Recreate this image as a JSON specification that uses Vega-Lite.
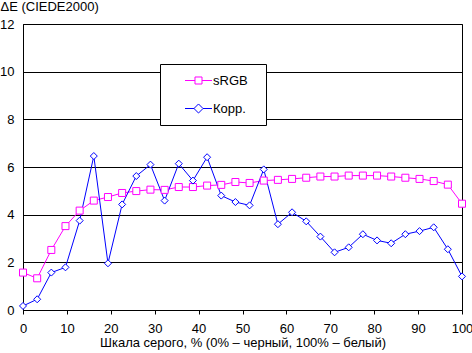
{
  "$schema": "https://vega.github.io/schema/vega-lite/v6.json",
  "width": 439,
  "height": 286,
  "autosize": {"type": "none"},
  "padding": {"left": 23, "top": 24, "right": 10, "bottom": 43},
  "background": "white",
  "config": {
    "view": {"stroke": "black", "strokeWidth": 1},
    "font": "Liberation Sans",
    "axis": {
      "labelFont": "Liberation Sans", "labelFontSize": 13, "labelColor": "black",
      "titleFont": "Liberation Sans", "titleFontSize": 13, "titleColor": "black", "titleFontWeight": "normal",
      "domainColor": "black", "tickColor": "black"
    },
    "legend": {
      "orient": "none", "legendX": 137, "legendY": 40,
      "padding": 9,
      "strokeColor": "black", "fillColor": "white",
      "symbolSize": 182, "symbolStrokeWidth": 1, "symbolFillColor": "white",
      "symbolOffset": 22, "labelOffset": 7, "rowPadding": 13,
      "labelFont": "Liberation Sans", "labelFontSize": 13, "labelColor": "black",
      "labelBaseline": "middle"
    }
  },
  "data": {
    "values": [
      {"x": 0, "series": "sRGB", "v": 1.57},
      {"x": 3.226, "series": "sRGB", "v": 1.33},
      {"x": 6.452, "series": "sRGB", "v": 2.52},
      {"x": 9.677, "series": "sRGB", "v": 3.52},
      {"x": 12.903, "series": "sRGB", "v": 4.17},
      {"x": 16.129, "series": "sRGB", "v": 4.59},
      {"x": 19.355, "series": "sRGB", "v": 4.74},
      {"x": 22.581, "series": "sRGB", "v": 4.91},
      {"x": 25.806, "series": "sRGB", "v": 4.99},
      {"x": 29.032, "series": "sRGB", "v": 5.05},
      {"x": 32.258, "series": "sRGB", "v": 5.04},
      {"x": 35.484, "series": "sRGB", "v": 5.16},
      {"x": 38.71, "series": "sRGB", "v": 5.16},
      {"x": 41.935, "series": "sRGB", "v": 5.22},
      {"x": 45.161, "series": "sRGB", "v": 5.25},
      {"x": 48.387, "series": "sRGB", "v": 5.37},
      {"x": 51.613, "series": "sRGB", "v": 5.33},
      {"x": 54.839, "series": "sRGB", "v": 5.43},
      {"x": 58.065, "series": "sRGB", "v": 5.46},
      {"x": 61.29, "series": "sRGB", "v": 5.5},
      {"x": 64.516, "series": "sRGB", "v": 5.55},
      {"x": 67.742, "series": "sRGB", "v": 5.6},
      {"x": 70.968, "series": "sRGB", "v": 5.6},
      {"x": 74.194, "series": "sRGB", "v": 5.64},
      {"x": 77.419, "series": "sRGB", "v": 5.64},
      {"x": 80.645, "series": "sRGB", "v": 5.64},
      {"x": 83.871, "series": "sRGB", "v": 5.6},
      {"x": 87.097, "series": "sRGB", "v": 5.55},
      {"x": 90.323, "series": "sRGB", "v": 5.5},
      {"x": 93.548, "series": "sRGB", "v": 5.41},
      {"x": 96.774, "series": "sRGB", "v": 5.26},
      {"x": 100, "series": "sRGB", "v": 4.46},
      {"x": 0, "series": "Корр.", "v": 0.17},
      {"x": 3.226, "series": "Корр.", "v": 0.45},
      {"x": 6.452, "series": "Корр.", "v": 1.57},
      {"x": 9.677, "series": "Корр.", "v": 1.79},
      {"x": 12.903, "series": "Корр.", "v": 3.75},
      {"x": 16.129, "series": "Корр.", "v": 6.46},
      {"x": 19.355, "series": "Корр.", "v": 1.96},
      {"x": 22.581, "series": "Корр.", "v": 4.43},
      {"x": 25.806, "series": "Корр.", "v": 5.62},
      {"x": 29.032, "series": "Корр.", "v": 6.1},
      {"x": 32.258, "series": "Корр.", "v": 4.59},
      {"x": 35.484, "series": "Корр.", "v": 6.14},
      {"x": 38.71, "series": "Корр.", "v": 5.43},
      {"x": 41.935, "series": "Корр.", "v": 6.41},
      {"x": 45.161, "series": "Корр.", "v": 4.8},
      {"x": 48.387, "series": "Корр.", "v": 4.53},
      {"x": 51.613, "series": "Корр.", "v": 4.39},
      {"x": 54.839, "series": "Корр.", "v": 5.9},
      {"x": 58.065, "series": "Корр.", "v": 3.6},
      {"x": 61.29, "series": "Корр.", "v": 4.1},
      {"x": 64.516, "series": "Корр.", "v": 3.72},
      {"x": 67.742, "series": "Корр.", "v": 3.08},
      {"x": 70.968, "series": "Корр.", "v": 2.42},
      {"x": 74.194, "series": "Корр.", "v": 2.63},
      {"x": 77.419, "series": "Корр.", "v": 3.18},
      {"x": 80.645, "series": "Корр.", "v": 2.92},
      {"x": 83.871, "series": "Корр.", "v": 2.8},
      {"x": 87.097, "series": "Корр.", "v": 3.18},
      {"x": 90.323, "series": "Корр.", "v": 3.31},
      {"x": 93.548, "series": "Корр.", "v": 3.47},
      {"x": 96.774, "series": "Корр.", "v": 2.55},
      {"x": 100, "series": "Корр.", "v": 1.41}
    ]
  },
  "encoding": {
    "x": {
      "field": "x", "type": "quantitative",
      "scale": {"domain": [0, 100], "nice": false, "zero": false},
      "axis": {
        "title": "Шкала серого, % (0% – черный, 100% – белый)",
        "values": [0, 10, 20, 30, 40, 50, 60, 70, 80, 90, 100],
        "grid": false, "tickSize": 4, "labelPadding": 8, "titlePadding": 1,
        "labelFlush": false, "labelOverlap": false
      }
    },
    "y": {
      "field": "v", "type": "quantitative",
      "scale": {"domain": [0, 12], "nice": false},
      "axis": {
        "title": "ΔE (CIEDE2000)",
        "values": [0, 2, 4, 6, 8, 10, 12],
        "grid": true, "gridColor": "black", "gridOpacity": 1, "gridWidth": 1,
        "ticks": false, "tickSize": 0, "labelPadding": 9,
        "titleAngle": 0, "titleAlign": "left", "titleBaseline": "top",
        "titleX": -23, "titleY": -24, "labelFlush": false
      }
    }
  },
  "resolve": {"scale": {"stroke": "independent", "shape": "independent"}, "legend": {"stroke": "independent", "shape": "independent"}},
  "layer": [
    {
      "mark": {"type": "line", "strokeWidth": 1},
      "encoding": {
        "stroke": {"field": "series", "type": "nominal", "scale": {"domain": ["sRGB", "Корр."], "range": ["#ff00ff", "#0000ff"]}, "legend": null}
      }
    },
    {
      "mark": {"type": "point", "filled": true, "fill": "white", "size": 49, "strokeWidth": 1, "opacity": 1},
      "encoding": {
        "stroke": {"field": "series", "type": "nominal", "scale": {"domain": ["sRGB", "Корр."], "range": ["#ff00ff", "#0000ff"]}, "legend": null},
        "shape": {"field": "series", "type": "nominal", "scale": {"domain": ["sRGB", "Корр."], "range": ["square", "diamond"]}, "legend": null}
      }
    },
    {
      "transform": [{"filter": "false"}],
      "mark": {"type": "point", "filled": true, "fill": "white", "strokeWidth": 1, "opacity": 1},
      "encoding": {
        "stroke": {"field": "series", "type": "nominal", "scale": {"domain": ["sRGB", "Корр."], "range": ["#ff00ff", "#0000ff"]}, "legend": {"title": null}},
        "shape": {"field": "series", "type": "nominal", "scale": {"domain": ["sRGB", "Корр."], "range": ["M-2,0H-0.52M0.52,0H2M-0.52,-0.52H0.52V0.52H-0.52ZM8.3,0", "M-2,0H-0.67M0.67,0H2M-0.67,0L0,-0.67L0.67,0L0,0.67ZM8.3,0"]}, "legend": {"title": null}}
      }
    }
  ]
}
